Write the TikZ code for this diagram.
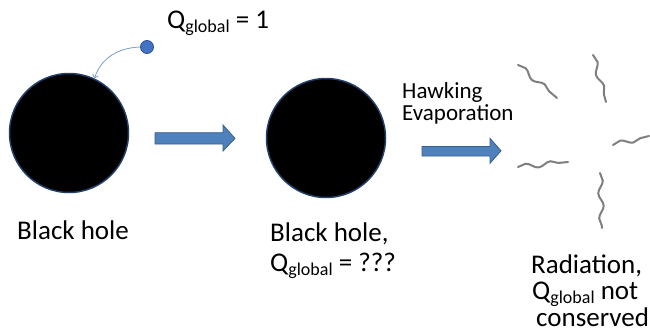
\documentclass[tikz,border=0pt]{standalone}
\usepackage{fontspec}
\setmainfont{Carlito}
\usetikzlibrary{arrows.meta,decorations.pathmorphing}
\definecolor{holeEdge}{HTML}{22406A}
\definecolor{arrowFill}{HTML}{4F81BD}
\definecolor{arrowEdge}{HTML}{385D8A}
\definecolor{chargeFill}{HTML}{4472C4}
\definecolor{chargeEdge}{HTML}{2F528F}
\definecolor{chargeLine}{HTML}{7A9CCB}
\definecolor{waveGrey}{HTML}{7F7F7F}

\newcommand{\qglobal}{Q\raisebox{-4.5pt}{\fontsize{18}{18}\selectfont global}}

\begin{document}
\begin{tikzpicture}[x=1pt, y=-1pt, >={Straight Barb[length=3pt,width=6pt]},
    hole/.style={circle, fill=black, draw=holeEdge, line width=1.5pt, minimum size=119pt, inner sep=0pt},
    txt/.style={anchor=base west, inner sep=0pt, font=\fontsize{27}{32}\selectfont},
    smalltxt/.style={txt, font=\fontsize{23}{26}\selectfont},
    wave/.style={draw=waveGrey, line width=2pt, line cap=round, decorate,
        decoration={snake, segment length=25pt, amplitude=2.5pt}},
    blockarrow/.style={fill=arrowFill, draw=arrowEdge, line width=0.8pt}]

    \useasboundingbox (0,0) rectangle (650,332);

    % the two black holes and the charged particle
    \node[hole] (bh1) at (69,133) {};
    \node[hole] (bh2) at (326,138) {};
    \node[circle, fill=chargeFill, draw=chargeEdge, line width=0.8pt, minimum size=13pt, inner sep=0pt] (dot) at (147,47) {};

    % particle falls in
    \draw[->, chargeLine, line width=0.8pt] (dot.west) to[out=182, in=72] (bh1.65);
    \node[txt] (qone) at (167,28) {\qglobal{} = 1};

    % block arrows
    \draw[blockarrow] (155,132.7) -- (223,132.7) -- (223,125) -- (235,138.4) -- (223,151) -- (223,144) -- (155,144) -- cycle;
    \draw[blockarrow] (422,146.5) -- (490,146.5) -- (490,138.3) -- (501,150.8) -- (490,163.3) -- (490,156) -- (422,156) -- cycle;

    % labels
    \node[txt] (bhone) at (17,239) {Black hole};
    \node[txt] (bhtwo) at (270,241) {Black hole,};
    \node[txt] (qq) at (270,271) {\qglobal{} = ???};
    \node[smalltxt] (hawk) at (402,98) {Hawking};
    \node[smalltxt] (evap) at (402,120) {Evaporation};
    \node[txt] (rad) at (531,273) {Radiation,};
    \node[txt] (qnot) at (532,299) {\qglobal{} not};
    \node[txt] (cons) at (536,326) {conserved};

    % radiation quanta
    \draw[wave] (518,65) -- (557,98);
    \draw[wave] (593,55) -- (606,102);
    \draw[wave] (613,145) -- (649,136);
    \draw[wave] (518,167) -- (568,162);
    \draw[wave] (600,173) -- (602,228);

\end{tikzpicture}
\end{document}
